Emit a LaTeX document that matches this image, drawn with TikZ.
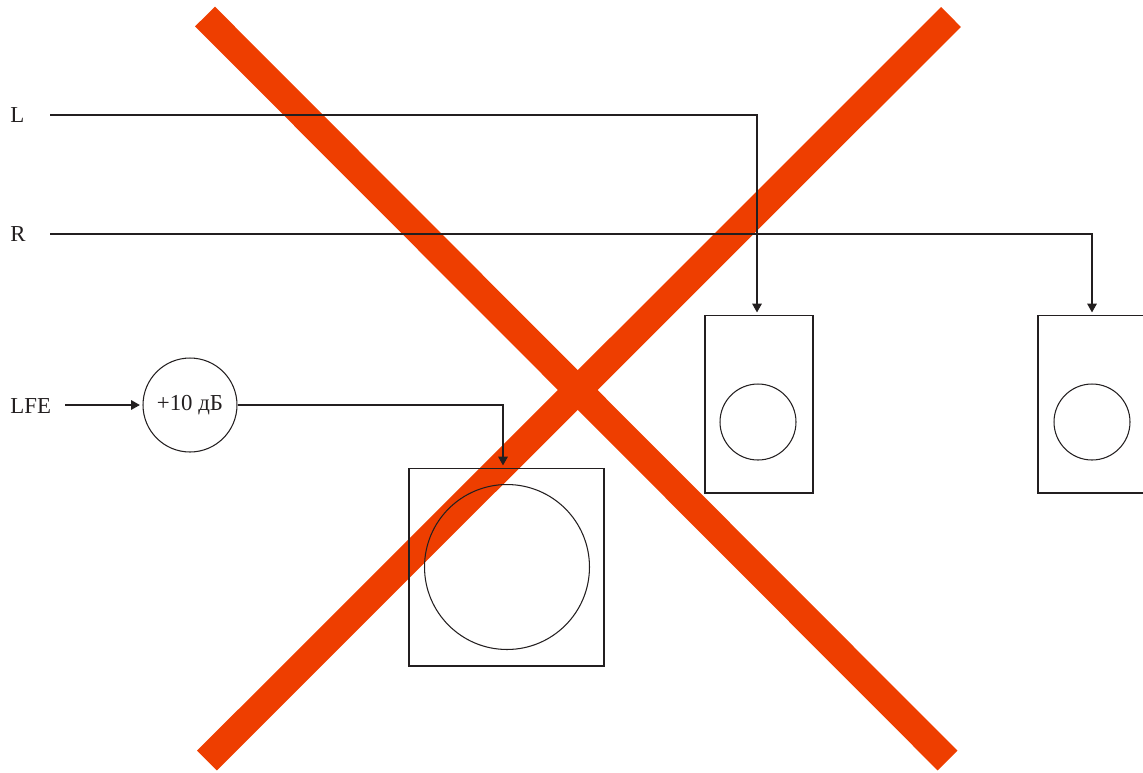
\documentclass[tikz,border=0pt]{standalone}
\usepackage{fontspec}
\setmainfont{Liberation Serif}
\usetikzlibrary{positioning, arrows.meta}
\definecolor{CrossRed}{RGB}{238,62,0}
\definecolor{InkGray}{RGB}{35,31,32}

\begin{document}
\begin{tikzpicture}[x=0.02cm, y=-0.02cm,
    every node/.style={font=\fontsize{13}{15}\selectfont, text=InkGray},
    wire/.style={draw=InkGray, line width=0.6pt},
    arr/.style={wire, -{Triangle[length=5pt, width=5.5pt]}, shorten >=1.5pt},
    cab/.style={draw=InkGray, line width=0.6pt, inner sep=0pt, outer sep=0pt},
    cone/.style={circle, draw=InkGray, line width=0.6pt, inner sep=0pt}]
      \useasboundingbox (0,0) rectangle (1143,772);
      \clip (0,0) rectangle (1143,772);

      % Cross
      \draw[CrossRed, line width=0.56cm] (205,16.5) -- (947.5,760.5);
      \draw[CrossRed, line width=0.56cm] (951,17) -- (207,760.5);

      % Channel labels
      \node[anchor=west, inner sep=0pt] (L) at (10,115) {L};
      \node[anchor=west, inner sep=0pt] (R) at (10,234) {R};
      \node[anchor=west, inner sep=0pt] (LFE) at (10,406) {LFE};
      \coordinate (Lstart) at (50,115);
      \coordinate (Rstart) at (50,234);
      \coordinate (LFEstart) at (65,405);

      % Gain
      \node[cone, minimum size=1.88cm] (gain) at (190,405) {+10 дБ};

      % Speakers
      \node[cab, minimum width=2.16cm, minimum height=3.56cm] (left) at (759,404) {};
      \node[cone, minimum size=1.52cm] (leftcone) at (758,422) {};
      \node[cab, minimum width=2.16cm, minimum height=3.56cm] (right) at (1092,404) {};
      \node[cone, minimum size=1.52cm] (rightcone) at (1092,422) {};
      \node[cab, minimum width=3.9cm, minimum height=3.96cm] (sub) at (506.5,567) {};
      \node[cone, minimum size=3.3cm] (subcone) at (507,567) {};

      % Signal paths
      \draw[arr] (Lstart) -| ([xshift=-0.04cm]left.north);
      \draw[arr] (Rstart) -| (right.north);
      \draw[arr] (LFEstart) -- (gain.west);
      \draw[arr] (gain.east) -| ([xshift=-0.07cm]sub.north);
    \end{tikzpicture}
\end{document}
